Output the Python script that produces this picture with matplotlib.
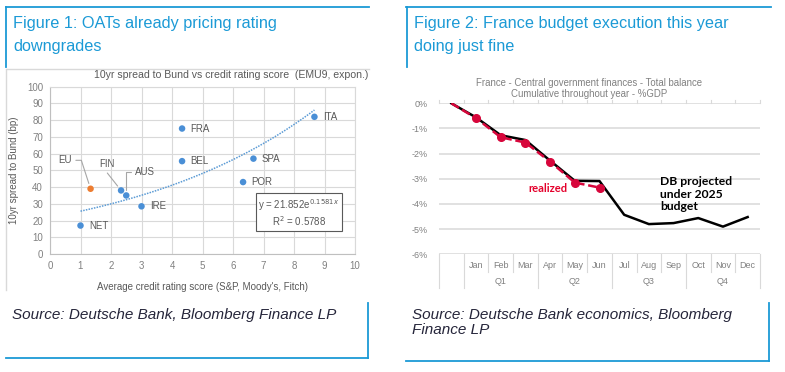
import numpy as np
import matplotlib
matplotlib.use('Agg')
import matplotlib.pyplot as plt
from matplotlib.lines import Line2D

# ---- Figure 1 data: spread vs rating score
countries = ['NET', 'EU', 'FIN', 'AUS', 'IRE', 'FRA', 'BEL', 'POR', 'SPA', 'ITA']
rating_score = [1.0, 1.33, 2.33, 2.5, 3.0, 4.33, 4.33, 6.33, 6.67, 8.67]
spread_bp = [17, 39, 38, 35, 28.5, 75, 55.5, 43, 57, 82]
trend_a = 21.852
trend_b = 0.1581
trend_r2 = 0.5788

# ---- Figure 2 data: cumulative balance, % GDP
months = ['', 'Jan', 'Feb', 'Mar', 'Apr', 'May', 'Jun', 'Jul', 'Aug', 'Sep',
          'Oct', 'Nov', 'Dec']
quarters = ['Q1', 'Q2', 'Q3', 'Q4']
projected = [0, -0.56, -1.27, -1.46, -2.28, -3.08, -3.09, -4.43, -4.80,
             -4.76, -4.56, -4.90, -4.52]
realized = [0, -0.59, -1.35, -1.56, -2.32, -3.15, -3.35]

W, H = 785, 372
BLUE = '#1b9ad6'
GRID = '#d9d9d9'
TICK = '#808080'
LABEL = '#595959'

plt.rcParams['font.family'] = ['Liberation Sans', 'DejaVu Sans']

fig = plt.figure(figsize=(W / 100, H / 100), dpi=100)


def fx(x):
    return x / W


def fy(y):
    return 1 - y / H


def hline(x0, x1, y, color=BLUE, lw=1.3):
    fig.add_artist(Line2D([fx(x0), fx(x1)], [fy(y), fy(y)], color=color, lw=lw))


def vline(x, y0, y1, color=BLUE, lw=1.3):
    fig.add_artist(Line2D([fx(x), fx(x)], [fy(y0), fy(y1)], color=color, lw=lw))


def axes_px(left, top, right, bottom):
    return fig.add_axes([fx(left), fy(bottom), (right - left) / W, (bottom - top) / H])


# panel frames
hline(6, 369, 7)
vline(6, 7, 67)
hline(406, 771, 7)
vline(407, 7, 67)
hline(7, 369, 69, color='#d9d9d9', lw=1)
vline(6, 69, 290, color='#d9d9d9', lw=1)
vline(368, 303, 358)
hline(6, 368, 358)
vline(769, 303, 361)
hline(406, 769, 361)

fig.text(fx(13), fy(16), 'Figure 1: OATs already pricing rating\ndowngrades',
         color=BLUE, fontsize=11.7, va='top', ha='left', linespacing=1.65)
fig.text(fx(414), fy(16), 'Figure 2: France budget execution this year\ndoing just fine',
         color=BLUE, fontsize=11.7, va='top', ha='left', linespacing=1.65)
fig.text(fx(12), fy(315), 'Source: Deutsche Bank, Bloomberg Finance LP',
         color='#25253a', fontsize=11, style='italic', va='center', ha='left')
fig.text(fx(412), fy(308), 'Source: Deutsche Bank economics, Bloomberg\nFinance LP',
         color='#25253a', fontsize=11, style='italic', va='top', ha='left',
         linespacing=1.1)

# ---------------- Figure 1 ----------------
ax1 = axes_px(50, 86.7, 355, 254)
ax1.set_xlim(0, 10)
ax1.set_ylim(0, 100)
ax1.set_xticks(range(0, 11))
ax1.set_yticks(range(0, 101, 10))
ax1.grid(True, color=GRID, lw=0.8)
ax1.set_axisbelow(True)
for s in ax1.spines.values():
    s.set_color(GRID)
    s.set_linewidth(0.8)
ax1.spines['left'].set_color('#bfbfbf')
ax1.spines['bottom'].set_color('#bfbfbf')
ax1.tick_params(length=0, labelsize=7, colors=TICK, pad=5)

colors = ['#ed7d31' if c == 'EU' else '#4a8fd6' for c in countries]
ax1.scatter(rating_score, spread_bp, s=22, c=colors, zorder=3, linewidths=0)

xt = np.linspace(rating_score[0], rating_score[-1], 100)
ax1.plot(xt, trend_a * np.exp(trend_b * xt), color='#5b9bd5', lw=1.1,
         ls=(0, (1, 0.8)), zorder=2)

leader = dict(arrowstyle='-', color='#a6a6a6', lw=0.8, shrinkA=1, shrinkB=4)
for c, x, y in zip(countries, rating_score, spread_bp):
    if c in ('EU', 'FIN', 'AUS'):
        continue
    ax1.annotate(c, (x, y), xytext=(6, 0), textcoords='offset points',
                 fontsize=7, color=LABEL, va='center', ha='left')
ax1.annotate('EU', (rating_score[1], spread_bp[1]), xytext=(0.49, 56),
             fontsize=7, color=LABEL, va='center', ha='center',
             arrowprops=dict(relpos=(1, 0.5),
                             connectionstyle='angle,angleA=0,angleB=108,rad=0',
                             **leader))
ax1.annotate('FIN', (rating_score[2], spread_bp[2]), xytext=(1.88, 53.7),
             fontsize=7, color=LABEL, va='center', ha='center',
             arrowprops=dict(relpos=(0.3, 0), **leader))
ax1.annotate('AUS', (rating_score[3], spread_bp[3]), xytext=(3.12, 49),
             fontsize=7, color=LABEL, va='center', ha='center',
             arrowprops=dict(relpos=(0, 0.5),
                             connectionstyle='angle,angleA=0,angleB=90,rad=0',
                             **leader))

ax1.text(8.16, 24.5, 'y = %.3fe$^{%.4fx}$\nR$^2$ = %.4f' % (trend_a, trend_b, trend_r2),
         fontsize=7, color=LABEL, ha='center', va='center', linespacing=1.1,
         bbox=dict(boxstyle='square,pad=0.25', fc='white', ec='#595959', lw=0.8))

ax1.set_xlabel("Average credit rating score (S&P, Moody's, Fitch)", fontsize=7,
               color=LABEL, labelpad=8)
ax1.set_ylabel('10yr spread to Bund (bp)', fontsize=7, color=LABEL, labelpad=6)
fig.text(fx(231), fy(75), '10yr spread to Bund vs credit rating score  (EMU9, expon.)',
         fontsize=7.6, color=LABEL, ha='center', va='center')

# ---------------- Figure 2 ----------------
ax2 = axes_px(439, 103.3, 760, 254.3)
pos = np.arange(len(months))
ax2.set_xlim(-0.5, len(months) - 0.5)
ax2.set_ylim(-6, 0)
ax2.set_yticks(range(-6, 1))
ax2.set_yticklabels(['%d%%' % v for v in range(-6, 1)])
ax2.yaxis.grid(True, color=GRID, lw=1.1)
ax2.set_axisbelow(True)
for s in ax2.spines.values():
    s.set_visible(False)
ax2.tick_params(axis='y', length=0, labelsize=6.5, colors=TICK, pad=8)
ax2.set_xticks([])

ax2.plot(pos, projected, color='black', lw=1.8, zorder=3)
ax2.plot(pos[:len(realized)], realized, color='#d7063b', lw=1.8, ls=(0, (3.5, 1.5)),
         marker='o', ms=5.5, markevery=list(range(1, len(realized))), zorder=4)

trans = ax2.get_xaxis_transform()
for i, m in enumerate(months):
    ax2.text(i, -0.073, m, transform=trans, fontsize=6.5, color=TICK,
             ha='center', va='center')
for q, name in enumerate(quarters):
    ax2.text(3 * q + 2, -0.181, name, transform=trans, fontsize=6.5, color=TICK,
             ha='center', va='center')
for i in range(len(months) + 1):
    edge = i - 0.5
    long_tick = i <= 1 or (i - 1) % 3 == 0
    ax2.plot([edge, edge], [0, -0.223 if long_tick else -0.119], transform=trans,
             color=GRID, lw=0.8, clip_on=False)
    ax2.plot([edge, edge], [1, 1.02], transform=trans, color=GRID, lw=0.8,
             clip_on=False)

ax2.text(3.9, -3.38, 'realized', color='#e4002b', fontsize=8, weight='bold',
         family='Lato', ha='center', va='center')
ax2.text(8.45, -2.88, 'DB projected\nunder 2025\nbudget', color='black', fontsize=8.7,
         weight='bold', family='Lato', ha='left', va='top', linespacing=1.2)

fig.text(fx(589), fy(82.7), 'France - Central government finances - Total balance',
         fontsize=6.9, color=TICK, ha='center', va='center')
fig.text(fx(589), fy(94.3), 'Cumulative throughout year - %GDP',
         fontsize=6.9, color=TICK, ha='center', va='center')

fig.savefig('out.png', dpi=100)
